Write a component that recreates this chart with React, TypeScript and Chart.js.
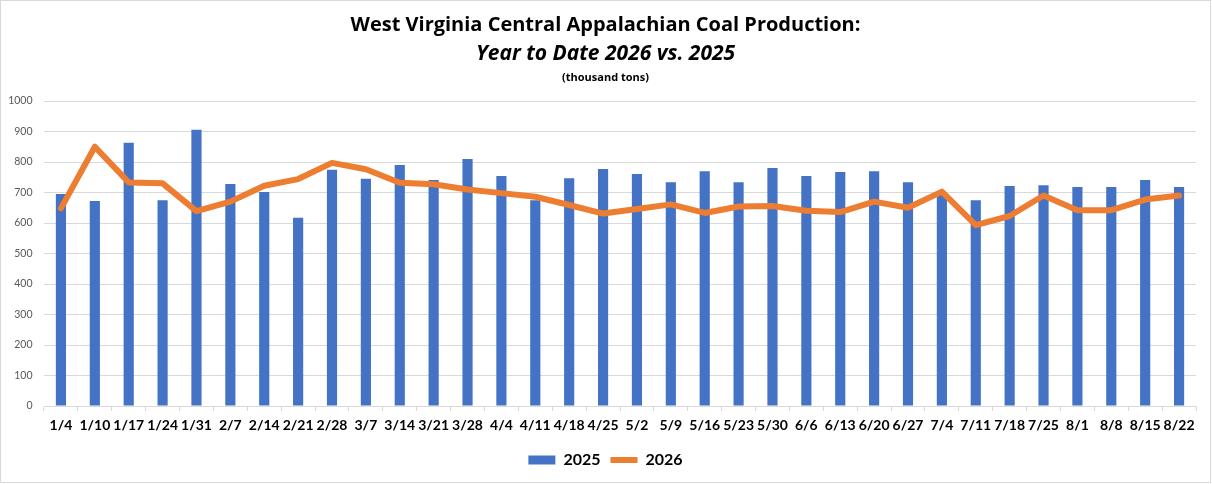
import { useEffect, useRef } from 'react';
import Chart from 'chart.js/auto';

const weeks = [
  '1/4', '1/10', '1/17', '1/24', '1/31', '2/7', '2/14', '2/21', '2/28', '3/7', '3/14', '3/21',
  '3/28', '4/4', '4/11', '4/18', '4/25', '5/2', '5/9', '5/16', '5/23', '5/30', '6/6', '6/13',
  '6/20', '6/27', '7/4', '7/11', '7/18', '7/25', '8/1', '8/8', '8/15', '8/22',
];

const production2025 = [
  695, 672, 863, 675, 906, 728, 702, 617, 775, 745, 790, 741,
  810, 754, 675, 747, 777, 761, 734, 770, 734, 780, 754, 767,
  770, 734, 697, 675, 721, 724, 718, 718, 741, 718,
];

const production2026 = [
  648, 850, 733, 730, 639, 670, 722, 744, 797, 776, 732, 727,
  710, 698, 686, 659, 631, 646, 661, 633, 654, 656, 640, 636,
  670, 650, 703, 593, 623, 690, 642, 642, 677, 690,
];

const titleText = 'West Virginia Central Appalachian Coal Production:';
const subtitleText = 'Year to Date 2026 vs. 2025';
const unitText = '(thousand tons)';

const BLUE = '#4472C4';
const ORANGE = '#ED7D31';
const GRID = '#D9D9D9';

// small third title line under the subtitle
const unitLine = {
  id: 'unitLine',
  afterDraw(chart: Chart) {
    const ctx = chart.ctx;
    ctx.save();
    ctx.font = 'bold 11px "Open Sans"';
    ctx.fillStyle = '#000';
    ctx.textAlign = 'center';
    ctx.textBaseline = 'alphabetic';
    ctx.fillText(unitText, chart.width / 2, 80);
    ctx.restore();
  },
};

function CoalChart() {
  const canvasRef = useRef<HTMLCanvasElement>(null);

  useEffect(() => {
    const canvas = canvasRef.current;
    if (!canvas) return;
    const chart = new Chart(canvas, {
      type: 'bar',
      data: {
        labels: weeks,
        datasets: [
          {
            type: 'bar',
            label: '2025',
            data: production2025,
            backgroundColor: BLUE,
            borderWidth: 0,
            categoryPercentage: 0.3,
            barPercentage: 1,
            order: 2,
            pointStyle: 'rect',
          },
          {
            type: 'line',
            label: '2026',
            data: production2026,
            borderColor: ORANGE,
            backgroundColor: ORANGE,
            borderWidth: 6,
            borderCapStyle: 'round',
            borderJoinStyle: 'round',
            pointRadius: 0,
            tension: 0,
            order: 1,
            pointStyle: 'line',
          },
        ],
      },
      options: {
        animation: false,
        responsive: true,
        maintainAspectRatio: false,
        layout: { padding: { left: 0, right: 0, top: 0, bottom: 4 } },
        plugins: {
          title: {
            display: true,
            text: titleText,
            color: '#000',
            font: { family: 'Open Sans', size: 20, weight: 'bold', lineHeight: 1 },
            padding: { top: 13.8, bottom: 9.2 },
          },
          subtitle: {
            display: true,
            text: subtitleText,
            color: '#000',
            font: { family: 'Open Sans', size: 21, weight: 'bold', style: 'italic', lineHeight: 1 },
            padding: { top: 0, bottom: 36 },
          },
          legend: {
            position: 'bottom',
            labels: {
              usePointStyle: true,
              pointStyleWidth: 27,
              boxHeight: 9,
              padding: 10,
              color: '#000',
              font: { family: 'Lato', size: 16, weight: 'bold' },
              sort: (a, b) => (a.datasetIndex ?? 0) - (b.datasetIndex ?? 0),
            },
          },
          tooltip: { enabled: false },
        },
        scales: {
          x: {
            offset: true,
            grid: { drawOnChartArea: false, drawTicks: true, tickLength: 5, color: GRID },
            border: { display: true, color: GRID },
            ticks: {
              autoSkip: false,
              maxRotation: 0,
              minRotation: 0,
              padding: 6,
              color: '#000',
              font: { family: 'Lato', size: 14, weight: 'bold' },
            },
            afterFit: (scale) => {
              scale.height = 36;
            },
          },
          y: {
            min: 0,
            max: 1000,
            grid: { color: GRID, drawTicks: false },
            border: { display: false },
            ticks: {
              stepSize: 100,
              padding: 11.5,
              color: '#595959',
              font: { family: 'Lato', size: 10.5 },
              callback: (value) => String(value),
            },
            afterFit: (scale) => {
              scale.width = 43;
            },
          },
          // empty right-hand margin so the titles stay centred on the canvas
          yRight: {
            position: 'right',
            display: true,
            grid: { display: false },
            border: { display: false },
            ticks: { display: false },
            afterFit: (scale) => {
              scale.width = 14;
            },
          },
        },
      },
      plugins: [unitLine],
    });
    return () => {
      chart.destroy();
    };
  }, []);

  return <canvas ref={canvasRef} />;
}

export default function App() {
  return (
    <div
      style={{
        position: 'fixed',
        top: 0,
        left: 0,
        width: 1211,
        height: 483,
        border: `1px solid ${GRID}`,
        boxSizing: 'border-box',
        background: '#fff',
      }}
    >
      <div style={{ position: 'relative', width: 1209, height: 481 }}>
        <CoalChart />
      </div>
    </div>
  );
}
